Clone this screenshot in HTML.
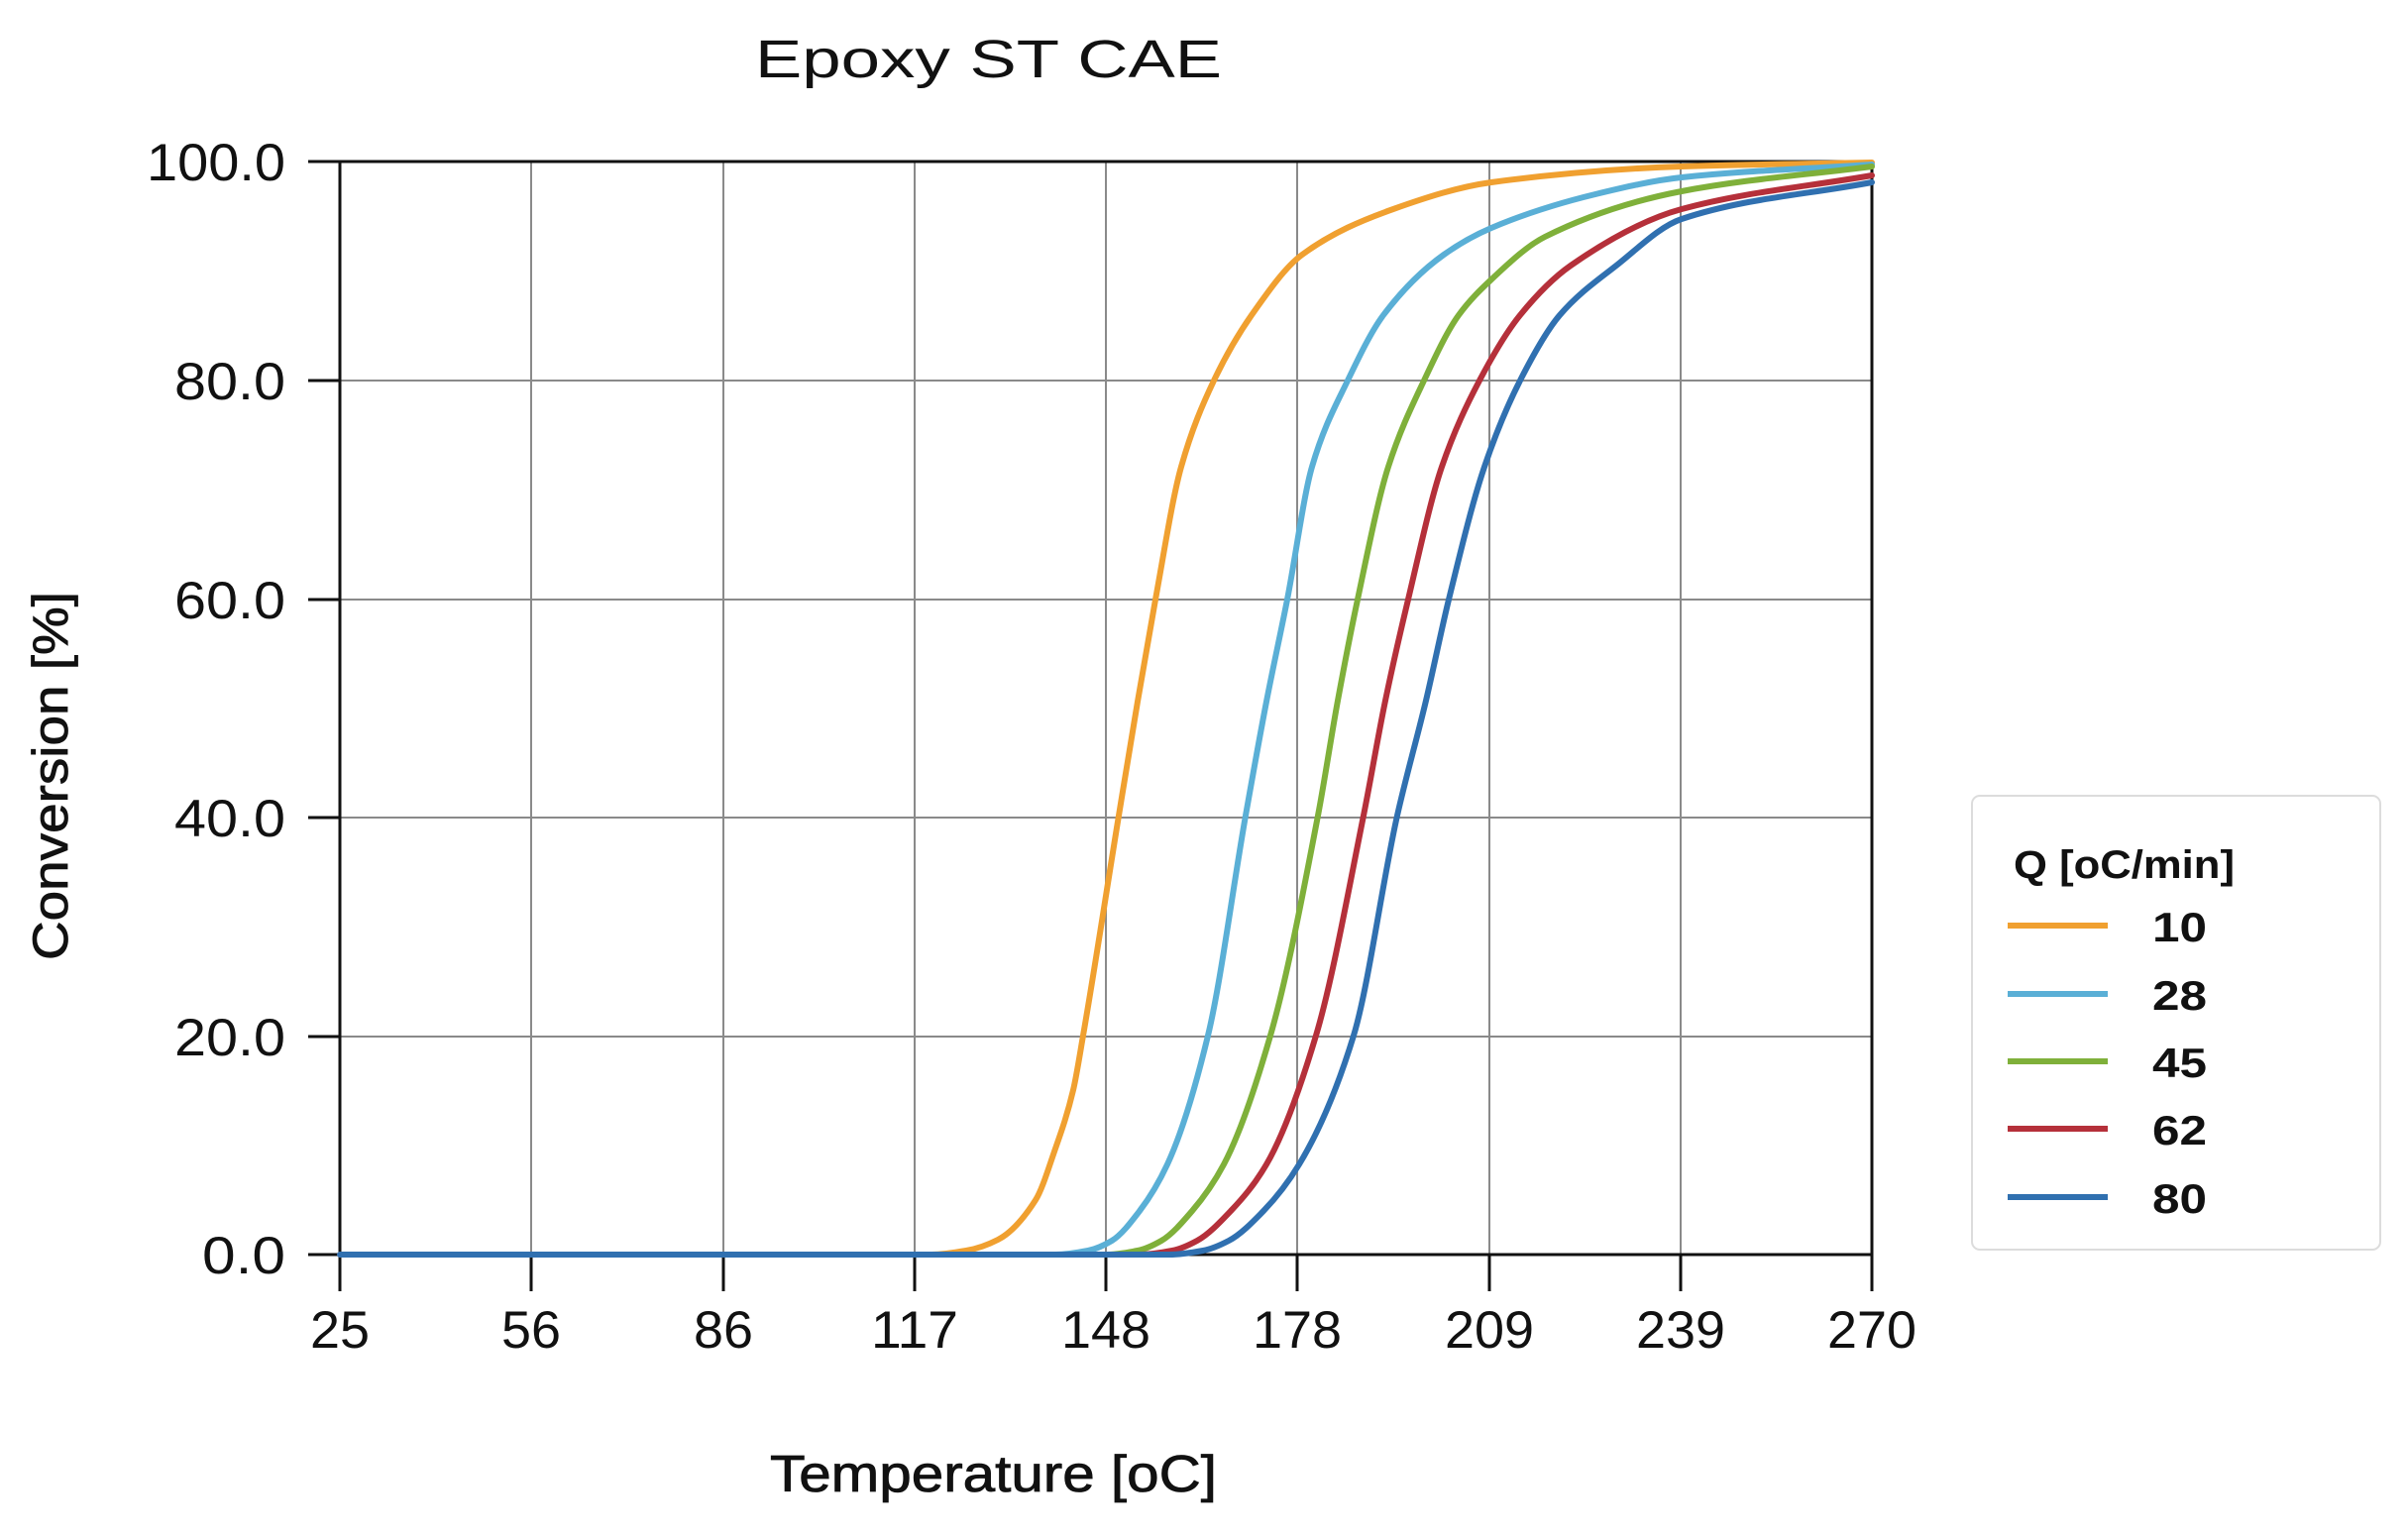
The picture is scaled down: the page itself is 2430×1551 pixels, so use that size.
<!DOCTYPE html>
<html><head><meta charset="utf-8"><style>
html,body{margin:0;padding:0;background:#fff;}
svg{display:block;}
text{font-family:"Liberation Sans",sans-serif;fill:#111;}
</style></head><body>
<svg id="s" width="2430" height="1551" viewBox="0 0 2430 1551" xmlns="http://www.w3.org/2000/svg">
<rect width="2430" height="1551" fill="#fff"/>
<text x="762" y="78" font-size="54" textLength="471" lengthAdjust="spacingAndGlyphs">Epoxy   ST   CAE</text>
<g stroke="#8a8a8a" stroke-width="2">
<line x1="536" y1="163" x2="536" y2="1266"/><line x1="730" y1="163" x2="730" y2="1266"/>
<line x1="923" y1="163" x2="923" y2="1266"/><line x1="1116" y1="163" x2="1116" y2="1266"/>
<line x1="1309" y1="163" x2="1309" y2="1266"/><line x1="1503" y1="163" x2="1503" y2="1266"/>
<line x1="1696" y1="163" x2="1696" y2="1266"/>
<line x1="343" y1="384" x2="1889" y2="384"/><line x1="343" y1="605" x2="1889" y2="605"/>
<line x1="343" y1="825" x2="1889" y2="825"/><line x1="343" y1="1046" x2="1889" y2="1046"/>
</g>
<g stroke="#111" stroke-width="3" fill="none">
<rect x="343" y="163" width="1546" height="1103"/>
<line x1="311" y1="163" x2="343" y2="163"/><line x1="311" y1="384" x2="343" y2="384"/>
<line x1="311" y1="605" x2="343" y2="605"/><line x1="311" y1="825" x2="343" y2="825"/>
<line x1="311" y1="1046" x2="343" y2="1046"/><line x1="311" y1="1266" x2="343" y2="1266"/>
<line x1="343" y1="1266" x2="343" y2="1303"/><line x1="536" y1="1266" x2="536" y2="1303"/>
<line x1="730" y1="1266" x2="730" y2="1303"/><line x1="923" y1="1266" x2="923" y2="1303"/>
<line x1="1116" y1="1266" x2="1116" y2="1303"/><line x1="1309" y1="1266" x2="1309" y2="1303"/>
<line x1="1503" y1="1266" x2="1503" y2="1303"/><line x1="1696" y1="1266" x2="1696" y2="1303"/>
<line x1="1889" y1="1266" x2="1889" y2="1303"/>
</g>
<g font-size="53" text-anchor="end">
<text x="288" y="182" textLength="140" lengthAdjust="spacingAndGlyphs">100.0</text>
<text x="288" y="403" textLength="112" lengthAdjust="spacingAndGlyphs">80.0</text>
<text x="288" y="624" textLength="112" lengthAdjust="spacingAndGlyphs">60.0</text>
<text x="288" y="844" textLength="112" lengthAdjust="spacingAndGlyphs">40.0</text>
<text x="288" y="1065" textLength="112" lengthAdjust="spacingAndGlyphs">20.0</text>
<text x="288" y="1285" textLength="84" lengthAdjust="spacingAndGlyphs">0.0</text>
</g>
<g font-size="53" text-anchor="middle">
<text x="343" y="1360" textLength="60" lengthAdjust="spacingAndGlyphs">25</text>
<text x="536" y="1360" textLength="60" lengthAdjust="spacingAndGlyphs">56</text>
<text x="730" y="1360" textLength="60" lengthAdjust="spacingAndGlyphs">86</text>
<text x="923" y="1360" textLength="88" lengthAdjust="spacingAndGlyphs">117</text>
<text x="1116" y="1360" textLength="90" lengthAdjust="spacingAndGlyphs">148</text>
<text x="1309" y="1360" textLength="90" lengthAdjust="spacingAndGlyphs">178</text>
<text x="1503" y="1360" textLength="90" lengthAdjust="spacingAndGlyphs">209</text>
<text x="1696" y="1360" textLength="90" lengthAdjust="spacingAndGlyphs">239</text>
<text x="1889" y="1360" textLength="90" lengthAdjust="spacingAndGlyphs">270</text>
</g>
<text x="777" y="1505" font-size="52" textLength="451" lengthAdjust="spacingAndGlyphs" stroke="#111" stroke-width="0.8">Temperature [oC]</text>
<text transform="translate(68,783) rotate(-90)" text-anchor="middle" font-size="50" textLength="372" lengthAdjust="spacingAndGlyphs" stroke="#111" stroke-width="0.8">Conversion [%]</text>
<g id="curves" fill="none" stroke-width="6" stroke-linejoin="round" stroke-linecap="round"></g>
<rect x="1990" y="803" width="412" height="458" rx="8" fill="#fff" stroke="#dcdcdc" stroke-width="2"/>
<text x="2032" y="886" font-size="40" font-weight="bold" textLength="223" lengthAdjust="spacingAndGlyphs">Q [oC/min]</text>
<g stroke-width="6">
<line x1="2026" y1="934" x2="2127" y2="934" stroke="#F0A030"/>
<line x1="2026" y1="1003" x2="2127" y2="1003" stroke="#5AAFD6"/>
<line x1="2026" y1="1071" x2="2127" y2="1071" stroke="#7FB03A"/>
<line x1="2026" y1="1139" x2="2127" y2="1139" stroke="#B5303A"/>
<line x1="2026" y1="1208" x2="2127" y2="1208" stroke="#3070B0"/>
</g>
<g font-size="42" font-weight="bold">
<text x="2172" y="950" textLength="55" lengthAdjust="spacingAndGlyphs">10</text>
<text x="2172" y="1019" textLength="55" lengthAdjust="spacingAndGlyphs">28</text>
<text x="2172" y="1087" textLength="55" lengthAdjust="spacingAndGlyphs">45</text>
<text x="2172" y="1155" textLength="55" lengthAdjust="spacingAndGlyphs">62</text>
<text x="2172" y="1224" textLength="55" lengthAdjust="spacingAndGlyphs">80</text>
</g>
</svg>
<script>
var D=[
["#F0A030",[[343,1266],[940,1266],[975,1262],[1007,1251],[1045,1211],[1064,1162],[1083,1100],[1093,1045],[1129,823],[1148,708],[1166,605],[1192,471],[1225,384],[1263,318],[1314,257],[1406,211],[1505,184],[1697,168],[1889,164]]],
["#5AAFD6",[[343,1266],[1065,1266],[1098,1262],[1122,1252],[1150,1222],[1178,1175],[1219,1045],[1257,823],[1278,708],[1299,605],[1324,471],[1360,384],[1396,318],[1457,257],[1505,230],[1610,196],[1697,179],[1889,166]]],
["#7FB03A",[[343,1266],[1115,1266],[1148,1262],[1172,1252],[1203,1222],[1235,1175],[1282,1045],[1330,823],[1350,707],[1370,605],[1401,471],[1437,384],[1472,318],[1505,282],[1559,239],[1697,193],[1889,168]]],
["#B5303A",[[343,1266],[1150,1266],[1183,1262],[1208,1252],[1242,1222],[1278,1175],[1328,1045],[1376,823],[1398,707],[1421,605],[1455,471],[1493,384],[1534,318],[1585,268],[1697,211],[1889,177]]],
["#3070B0",[[343,1266],[1180,1266],[1214,1262],[1240,1252],[1275,1222],[1311,1175],[1366,1045],[1410,823],[1439,707],[1462,605],[1498,471],[1534,384],[1574,318],[1631,268],[1697,221],[1889,184]]]
];
function pchip(p){var n=p.length,h=[],dl=[],m=[];
for(var i=0;i<n-1;i++){h[i]=p[i+1][0]-p[i][0];dl[i]=(p[i+1][1]-p[i][1])/h[i];}
m[0]=dl[0];m[n-1]=dl[n-2];
for(i=1;i<n-1;i++){if(dl[i-1]*dl[i]<=0)m[i]=0;else{var w1=2*h[i]+h[i-1],w2=h[i]+2*h[i-1];m[i]=(w1+w2)/(w1/dl[i-1]+w2/dl[i]);}}
var d="M"+p[0][0]+","+p[0][1];
for(i=0;i<n-1;i++){var x0=p[i][0],y0=p[i][1],x1=p[i+1][0],y1=p[i+1][1],hh=h[i];
d+=" C"+(x0+hh/3).toFixed(2)+","+(y0+m[i]*hh/3).toFixed(2)+" "+(x1-hh/3).toFixed(2)+","+(y1-m[i+1]*hh/3).toFixed(2)+" "+x1+","+y1;}
return d;}
var g=document.getElementById("curves"),ns="http://www.w3.org/2000/svg";
D.forEach(function(c){var e=document.createElementNS(ns,"path");e.setAttribute("d",pchip(c[1]));e.setAttribute("stroke",c[0]);g.appendChild(e);});
</script>
</body></html>
